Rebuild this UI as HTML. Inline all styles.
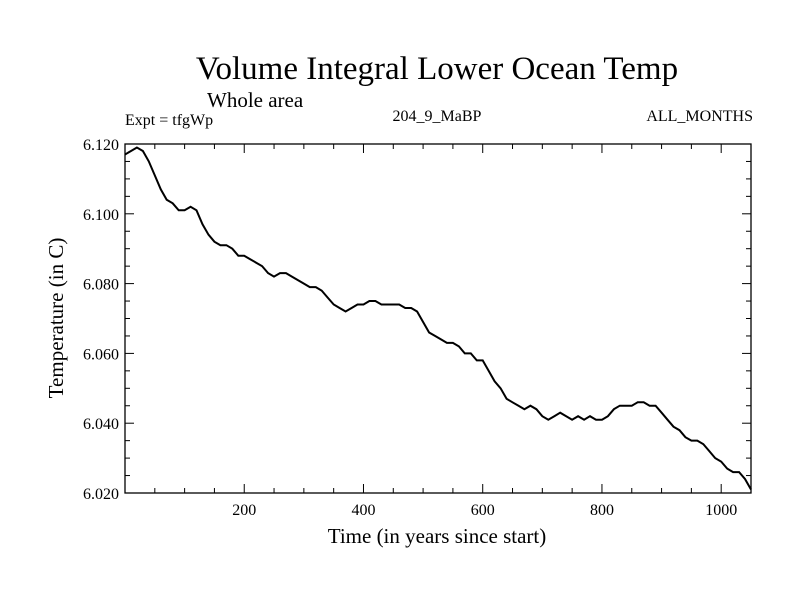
<!DOCTYPE html>
<html><head><meta charset="utf-8"><style>body{margin:0;background:#fff}svg{display:block}text{font-family:"Liberation Serif",serif;fill:#000}</style></head>
<body>
<svg id="chart" width="800" height="600" xmlns="http://www.w3.org/2000/svg">
<text x="437" y="79" font-size="33" text-anchor="middle">Volume Integral Lower Ocean Temp</text>
<text x="207" y="107" font-size="21">Whole area</text>
<text x="125" y="125" font-size="16">Expt = tfgWp</text>
<text x="437" y="121" font-size="16" text-anchor="middle">204_9_MaBP</text>
<text x="753" y="121" font-size="16" text-anchor="end">ALL_MONTHS</text>
<text x="437" y="543" font-size="21" text-anchor="middle">Time (in years since start)</text>
<text x="0" y="0" font-size="21" text-anchor="middle" transform="translate(63,318) rotate(-90)">Temperature (in C)</text>
<g id="axes"></g>
<path id="line" fill="none" stroke="#000" stroke-width="2"/>
</svg>
<script>
const years=[0,10,20,30,40,50,60,70,80,90,100,110,120,130,140,150,160,170,180,190,200,210,220,230,240,250,260,270,280,290,300,310,320,330,340,350,360,370,380,390,400,410,420,430,440,450,460,470,480,490,500,510,520,530,540,550,560,570,580,590,600,610,620,630,640,650,660,670,680,690,700,710,720,730,740,750,760,770,780,790,800,810,820,830,840,850,860,870,880,890,900,910,920,930,940,950,960,970,980,990,1000,1010,1020,1030,1040,1050];
const temps=[6.117,6.118,6.119,6.118,6.115,6.111,6.107,6.104,6.103,6.101,6.101,6.102,6.101,6.097,6.094,6.092,6.091,6.091,6.090,6.088,6.088,6.087,6.086,6.085,6.083,6.082,6.083,6.083,6.082,6.081,6.080,6.079,6.079,6.078,6.076,6.074,6.073,6.072,6.073,6.074,6.074,6.075,6.075,6.074,6.074,6.074,6.074,6.073,6.073,6.072,6.069,6.066,6.065,6.064,6.063,6.063,6.062,6.060,6.060,6.058,6.058,6.055,6.052,6.050,6.047,6.046,6.045,6.044,6.045,6.044,6.042,6.041,6.042,6.043,6.042,6.041,6.042,6.041,6.042,6.041,6.041,6.042,6.044,6.045,6.045,6.045,6.046,6.046,6.045,6.045,6.043,6.041,6.039,6.038,6.036,6.035,6.035,6.034,6.032,6.030,6.029,6.027,6.026,6.026,6.024,6.021];
const xTicks=[200,400,600,800,1000];
const yTicks=["6.020","6.040","6.060","6.080","6.100","6.120"];
const L=125,R=751,T=144,B=493,X0=0,X1=1050,Y0=6.02,Y1=6.12;
const sx=v=>L+(v-X0)/(X1-X0)*(R-L);
const sy=v=>B-(v-Y0)/(Y1-Y0)*(B-T);
const NS="http://www.w3.org/2000/svg";
const g=document.getElementById('axes');
function el(t,a){const e=document.createElementNS(NS,t);for(const k in a)e.setAttribute(k,a[k]);g.appendChild(e);return e;}
const frame=el('rect',{x:L,y:T,width:R-L,height:B-T,fill:'none',stroke:'#000','stroke-width':1.3});


for(let v=50;v<X1;v+=50){const len=v%200===0?9:5;const x=sx(v);
 el('line',{x1:x,x2:x,y1:B,y2:B-len,stroke:'#000'});el('line',{x1:x,x2:x,y1:T,y2:T+len,stroke:'#000'});}
for(let v=0;v<=20;v++){const val=Y0+v*0.005;const len=v%4===0?9:5;const y=sy(val);
 el('line',{x1:L,x2:L+len,y1:y,y2:y,stroke:'#000'});el('line',{x1:R,x2:R-len,y1:y,y2:y,stroke:'#000'});}
xTicks.forEach(v=>{const t=el('text',{x:sx(v),y:B+22,'font-size':16,'text-anchor':'middle'});t.textContent=v;
 
 });
yTicks.forEach(v=>{const t=el('text',{x:L-6,y:sy(+v)+6,'font-size':16,'text-anchor':'end'});t.textContent=v;
 
 });
document.getElementById('line').setAttribute('d',years.map((v,i)=>(i?'L':'M')+sx(v).toFixed(1)+','+sy(temps[i]).toFixed(1)).join(''));
</script>
</body></html>
